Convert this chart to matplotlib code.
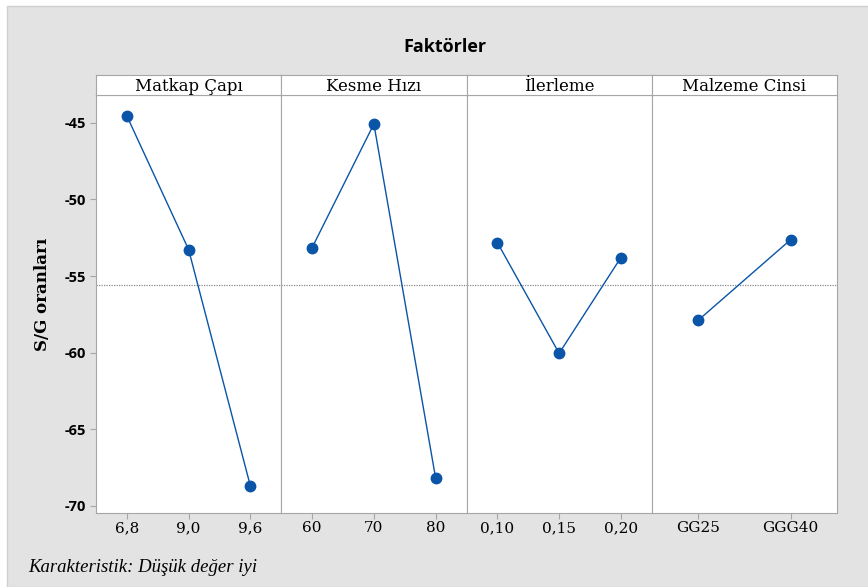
import matplotlib.pyplot as plt
from matplotlib.patches import Rectangle

# Ana etki degerleri (S/G oranlari)
factors = ['Matkap Çapı', 'Kesme Hızı', 'İlerleme', 'Malzeme Cinsi']
levels = [
    ['6,8', '9,0', '9,6'],
    ['60', '70', '80'],
    ['0,10', '0,15', '0,20'],
    ['GG25', 'GGG40'],
]
matkap_sn = [-44.55, -53.27, -68.70]
kesme_sn = [-53.14, -45.07, -68.18]
ilerleme_sn = [-52.81, -60.04, -53.79]
malzeme_sn = [-57.89, -52.62]
sn_values = [matkap_sn, kesme_sn, ilerleme_sn, malzeme_sn]
grand_mean = -55.6

W, H = 868, 587
fig = plt.figure(figsize=(W / 100, H / 100), dpi=100)
fig.patch.set_facecolor('white')
fig.patches.append(Rectangle((7 / W, 0), 1, 1 - 6 / H, transform=fig.transFigure,
                             facecolor='#e3e3e3', edgecolor='#d0d0d0', lw=1.0, zorder=-5))

serif = ['DejaVu Serif']
sans = ['Open Sans', 'DejaVu Sans']
blue = '#0a55a8'
grid_col = '#a6a6a6'

left, right = 96, 837
top_hdr, top_plot, bottom = 75, 95, 513
pw = (right - left) / 4
ymin, ymax = -70.46, -43.18

for i, (name, labs, vals) in enumerate(zip(factors, levels, sn_values)):
    x0 = left + i * pw
    ax = fig.add_axes([x0 / W, (H - bottom) / H, pw / W, (bottom - top_plot) / H])
    xs = list(range(1, len(vals) + 1))
    ax.plot(xs, vals, color=blue, lw=1.0, marker='o', markersize=7.5,
            markerfacecolor=blue, markeredgecolor=blue, zorder=3)
    ax.axhline(grand_mean, color='#8c8c8c', lw=0.9, ls=(0, (1, 1)), zorder=1)
    ax.set_xlim(0.5, len(vals) + 0.5)
    ax.set_ylim(ymin, ymax)
    ax.set_xticks(xs)
    ax.set_xticklabels(labs, fontfamily=serif, fontsize=11)
    ax.tick_params(axis='x', length=4, color=grid_col, pad=2)
    for s in ax.spines.values():
        s.set_color(grid_col)
    if i == 0:
        ax.set_yticks([-45, -50, -55, -60, -65, -70])
        ax.set_yticklabels(['-45', '-50', '-55', '-60', '-65', '-70'],
                           fontfamily=sans, fontweight='bold', fontsize=10.5)
        ax.tick_params(axis='y', length=4, color=grid_col, pad=3)
        ax.set_ylabel('S/G oranları', fontfamily=serif, fontweight='bold', fontsize=12)
        # label sits centred on panel + header strip
        ax.yaxis.set_label_coords((51 - left) / pw, (bottom - 294) / (bottom - top_plot))
    else:
        ax.set_yticks([])

    hdr = fig.add_axes([x0 / W, (H - top_plot) / H, pw / W, (top_plot - top_hdr) / H])
    hdr.set_xticks([])
    hdr.set_yticks([])
    for s in hdr.spines.values():
        s.set_color(grid_col)
    hdr.text(0.5, 0.42, name, ha='center', va='center', fontfamily=serif,
             fontsize=12, transform=hdr.transAxes)

fig.text(445 / W, 1 - 47 / H, 'Faktörler', ha='center', va='center',
         fontfamily=sans, fontweight='bold', fontsize=13)
fig.text(28 / W, 1 - 567 / H, 'Karakteristik: Düşük değer iyi', ha='left', va='center',
         fontfamily=['Liberation Serif'], fontstyle='italic', fontsize=13.5)

fig.savefig('out.png', dpi=100)
